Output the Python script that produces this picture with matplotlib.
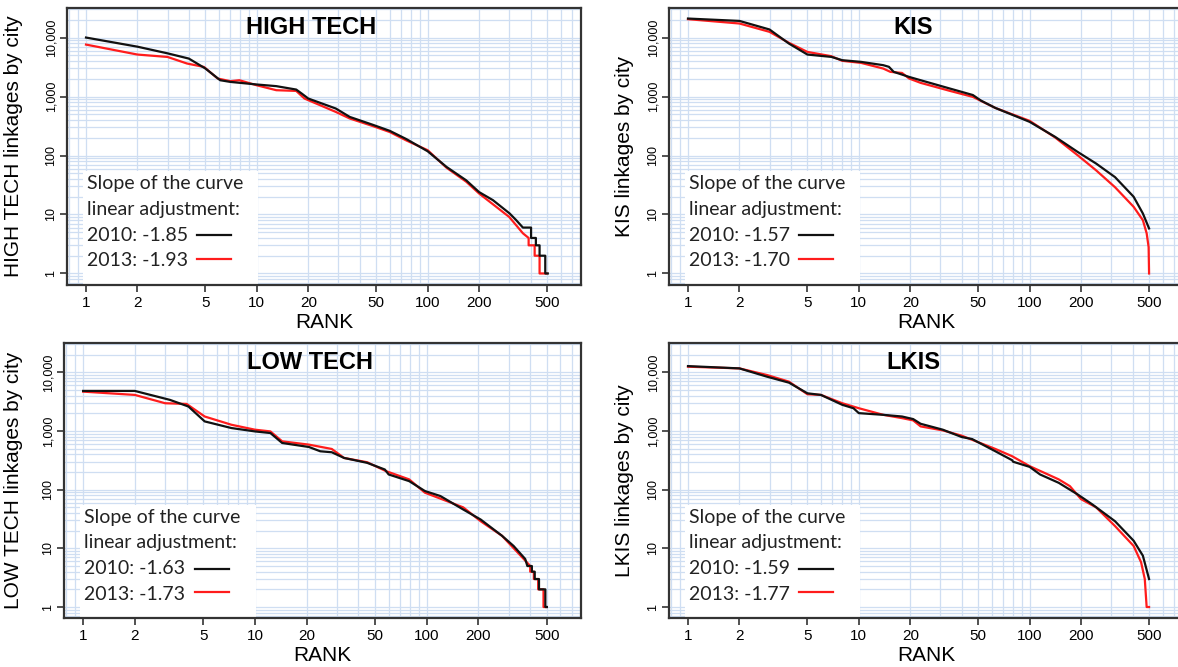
import matplotlib
matplotlib.use('Agg')
import matplotlib.pyplot as plt
from matplotlib.patches import Rectangle
from matplotlib.ticker import FixedLocator, LogLocator, NullFormatter

plt.rcParams['font.family'] = ['Liberation Sans', 'DejaVu Sans']

# panel names and slopes of the linear adjustment
panels = ['HIGH TECH', 'KIS', 'LOW TECH', 'LKIS']
slopes_2010 = ['-1.85', '-1.57', '-1.63', '-1.59']
slopes_2013 = ['-1.93', '-1.70', '-1.73', '-1.77']

x_ticks = [1, 2, 5, 10, 20, 50, 100, 200, 500]
y_ticks = [1, 10, 100, 1000, 10000]
y_tick_labels = ['1', '10', '100', '1,000', '10,000']

# HIGH TECH
ht_rank_2010 = [1, 2, 3, 4, 5, 6.1, 7, 10, 13, 17, 18.3, 20, 29, 35, 48, 60, 75, 100, 129, 168,
                200, 241, 302, 330, 361, 403, 403, 430, 430, 452, 452, 488, 488, 505]
ht_val_2010 = [10000, 7000, 5400, 4400, 2985, 1890, 1770, 1600, 1500, 1313, 1125, 925, 626, 451,
               330, 262, 190, 118, 64, 38, 24, 17.5, 10.4, 8, 6, 6, 4, 4, 3, 3, 2, 2, 1, 1]
ht_rank_2013 = [1, 2, 3, 3.9, 4.9, 5.9, 7, 7.9, 10, 13, 17, 19, 29, 35, 48, 60, 75, 100, 129, 168,
                200, 300, 361, 390, 390, 423, 423, 452, 452, 497]
ht_val_2013 = [7600, 5150, 4690, 3630, 3175, 2020, 1820, 1890, 1550, 1280, 1245, 925, 548, 424,
               314, 250, 180, 123, 62, 36, 22.7, 9.1, 4.8, 4, 3, 3, 2, 2, 1, 1]

# KIS
kis_rank_2010 = [1, 2, 3, 3.9, 5, 6.9, 8, 10.3, 13.9, 15, 16, 19.7, 23, 34, 40, 46.5, 52, 63, 100,
                 141, 191, 245, 316, 406, 460, 500]
kis_val_2010 = [21000, 19150, 13700, 7900, 5150, 4700, 4130, 3870, 3400, 3190, 2620, 2150, 1890,
                1370, 1200, 1060, 850, 640, 372, 207, 115, 73, 43, 20, 10.4, 5.8]
kis_rank_2013 = [1, 2, 3, 3.9, 5, 6.9, 8, 10.3, 13.9, 15.3, 17.9, 19.7, 23, 34, 46.5, 63, 100,
                 141, 191, 245, 316, 406, 460, 484, 497, 500]
kis_val_2013 = [20500, 17300, 12500, 8130, 5710, 4830, 4030, 3720, 2980, 2620, 2510, 2020, 1705,
                1250, 986, 640, 387, 202, 101, 56, 29, 13.5, 8, 4.8, 2.8, 1]

# LOW TECH
lt_rank_2010 = [1, 2, 3.2, 4.1, 5.1, 7.3, 10, 12.3, 14.4, 20.6, 24, 28, 33, 45, 57, 60, 79, 97.5,
                120, 163, 206, 274, 320, 374, 385, 409, 409, 425, 425, 450, 450, 490, 490, 500]
lt_val_2010 = [4830, 4830, 3400, 2620, 1460, 1125, 986, 925, 626, 535, 452, 435, 348, 287, 221,
               182, 140, 95, 78, 46, 31, 16.4, 11, 6.6, 5, 5, 4, 4, 3, 3, 2, 2, 1, 1]
lt_rank_2013 = [1, 2, 3, 4, 5.1, 7.3, 10, 12.3, 14.4, 20.6, 28, 33, 45, 58, 79, 97.5, 163, 206,
                274, 374, 400, 400, 420, 420, 445, 445, 478, 478, 495]
lt_val_2013 = [4700, 4130, 2980, 2900, 1770, 1280, 1055, 986, 668, 587, 495, 348, 294, 207, 150,
               89, 50, 29, 16.4, 6.2, 5, 4, 4, 3, 3, 2, 2, 1, 1]

# LKIS
lk_rank_2010 = [1, 2, 2.9, 3.9, 5, 6, 8, 9.3, 10, 13.9, 17.9, 20.8, 23, 31, 40, 46, 63, 79, 80,
                100, 115, 148, 191, 233, 316, 406, 460, 500]
lk_val_2010 = [12800, 11700, 8450, 6680, 4400, 4130, 2800, 2450, 2020, 1890, 1770, 1600, 1330,
               1055, 791, 731, 452, 318, 300, 245, 182, 131, 83, 56, 29, 13.5, 7.5, 3]
lk_rank_2013 = [1, 2, 2.9, 3.9, 5, 6, 8, 10, 13.9, 17.9, 20.8, 23, 31, 40, 63, 79, 100, 148, 172,
                200, 245, 316, 406, 449, 472, 484, 500]
lk_val_2013 = [12500, 11700, 9020, 6950, 4240, 4130, 2980, 2450, 1890, 1660, 1520, 1200, 1026,
               834, 495, 372, 252, 150, 115, 69, 50, 24, 11, 5.8, 3, 1, 1]

ranks_2010 = [ht_rank_2010, kis_rank_2010, lt_rank_2010, lk_rank_2010]
vals_2010 = [ht_val_2010, kis_val_2010, lt_val_2010, lk_val_2010]
ranks_2013 = [ht_rank_2013, kis_rank_2013, lt_rank_2013, lk_rank_2013]
vals_2013 = [ht_val_2013, kis_val_2013, lt_val_2013, lk_val_2013]

W, H = 1178, 667
fig = plt.figure(figsize=(W / 100, H / 100), dpi=100)

# axes boxes in pixels: left, bottom, width, height
boxes = [(67, 382.5, 514, 276.5), (669, 382.5, 514, 276.5),
         (64, 49, 517, 275), (669, 49, 514, 275)]
ylab_x = [-0.085, -0.068, -0.079, -0.068]

grid_col = '#cfdef2'

for i in range(4):
    l, b, w, h = boxes[i]
    ax = fig.add_axes([l / W, b / H, w / W, h / H])
    ax.set_xscale('log')
    ax.set_yscale('log')
    ax.set_xlim(0.774, 790)
    ax.set_ylim(0.65, 31700)

    ax.xaxis.set_major_locator(FixedLocator(x_ticks))
    ax.xaxis.set_major_formatter(plt.FixedFormatter([str(t) for t in x_ticks]))
    ax.xaxis.set_minor_locator(LogLocator(base=10, subs=range(1, 10), numticks=20))
    ax.xaxis.set_minor_formatter(NullFormatter())
    ax.yaxis.set_major_locator(FixedLocator(y_ticks))
    ax.yaxis.set_major_formatter(plt.FixedFormatter(y_tick_labels))
    ax.yaxis.set_minor_locator(LogLocator(base=10, subs=range(1, 10), numticks=20))
    ax.yaxis.set_minor_formatter(NullFormatter())

    ax.tick_params(which='minor', length=0)
    ax.tick_params(axis='x', which='major', length=5, width=1.2, labelsize=11, pad=3,
                   color='#333333')
    ax.tick_params(axis='y', which='major', length=5, width=1.2, labelsize=9, pad=2,
                   color='#333333')
    for lab in ax.get_yticklabels():
        lab.set_rotation(90)
        lab.set_va('center')

    ax.set_axisbelow(True)
    ax.grid(which='both', color=grid_col, lw=0.9)
    for sp in ax.spines.values():
        sp.set_color('#333333')
        sp.set_linewidth(1.6)

    # white box of the legend
    ax.add_patch(Rectangle((0.031, 0.0), 0.341, 0.412, transform=ax.transAxes,
                           facecolor='white', edgecolor='none', zorder=1))

    ax.plot(ranks_2010[i], vals_2010[i], color='#111111', lw=1.6, zorder=4)
    ax.plot(ranks_2013[i], vals_2013[i], color='#ff1c1c', lw=1.6, zorder=3)

    ax.text(0.475, 0.928, panels[i], transform=ax.transAxes, ha='center', va='center',
            fontsize=17, fontweight='bold')
    ax.set_ylabel(panels[i] + ' linkages by city', fontsize=15)
    ax.yaxis.set_label_coords(ylab_x[i], 0.5)
    ax.text(0.5, -0.136, 'RANK', transform=ax.transAxes, ha='center', va='center',
            fontsize=15)

    # legend text
    leg_font = ['Lato', 'DejaVu Sans']
    ax.text(0.039, 0.367, 'Slope of the curve', transform=ax.transAxes, va='center',
            fontsize=14, family=leg_font, color='#222222', zorder=5)
    ax.text(0.039, 0.273, 'linear adjustment:', transform=ax.transAxes, va='center',
            fontsize=14, family=leg_font, color='#222222', zorder=5)
    ax.text(0.039, 0.179, '2010: ' + slopes_2010[i], transform=ax.transAxes, va='center',
            fontsize=14, family=leg_font, color='#222222', zorder=5)
    ax.text(0.039, 0.085, '2013: ' + slopes_2013[i], transform=ax.transAxes, va='center',
            fontsize=14, family=leg_font, color='#222222', zorder=5)
    ax.plot([0.253, 0.319], [0.179, 0.179], transform=ax.transAxes, color='#111111',
            lw=1.6, zorder=5)
    ax.plot([0.253, 0.319], [0.093, 0.093], transform=ax.transAxes, color='#ff1c1c',
            lw=1.6, zorder=5)

plt.savefig('out.png', dpi=100)
